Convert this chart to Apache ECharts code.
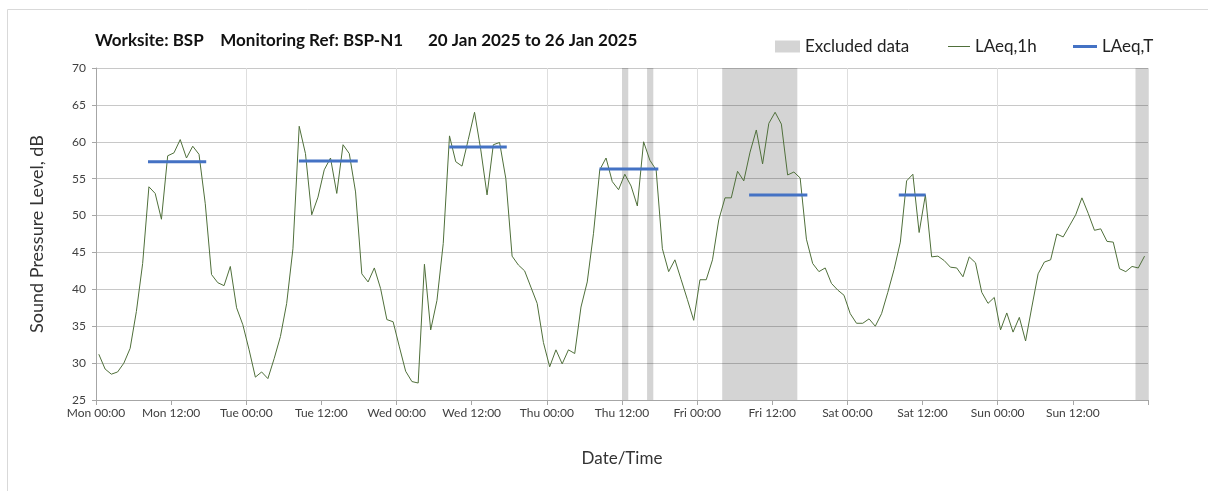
<!DOCTYPE html>
<html>
<head>
<meta charset="utf-8">
<script src="https://cdn.jsdelivr.net/npm/echarts@6/dist/echarts.min.js"></script>
<style>
  html, body { margin: 0; padding: 0; background: #fff; }
  #chart { width: 1208px; height: 491px; }
</style>
</head>
<body>
<div id="chart"></div>
<script>
// hourly LAeq,1h values, Mon 00:00 .. Sun 23:00
var laeq1h = [
  31.2, 29.2, 28.5, 28.8, 30.0, 32.0, 37.0, 43.5, 53.9, 53.0, 49.5, 58.1, 58.5, 60.3, 57.8, 59.4, 58.3, 51.6, 42.0, 40.9, 40.5, 43.1, 37.5, 35.2,
  31.8, 28.1, 28.8, 27.9, 30.6, 33.6, 38.1, 45.5, 62.1, 58.4, 50.1, 52.5, 56.2, 57.8, 53.0, 59.6, 58.4, 53.2, 42.1, 41.0, 42.9, 40.1, 35.9, 35.6,
  32.2, 28.9, 27.5, 27.3, 43.4, 34.5, 38.5, 46.2, 60.8, 57.3, 56.7, 60.3, 64.0, 58.9, 52.8, 59.6, 59.9, 55.0, 44.5, 43.3, 42.5, 40.3, 38.1, 32.8,
  29.5, 31.8, 29.9, 31.8, 31.3, 37.6, 41.0, 47.6, 56.2, 57.8, 54.6, 53.5, 55.6, 54.0, 51.3, 60.0, 57.5, 56.2, 45.5, 42.4, 44.0, 41.3, 38.6, 35.8,
  41.3, 41.3, 44.0, 49.4, 52.4, 52.4, 56.0, 54.7, 58.6, 61.6, 57.0, 62.5, 64.0, 62.4, 55.5, 55.9, 55.1, 46.8, 43.5, 42.4, 42.9, 40.8, 39.9, 39.2,
  36.7, 35.4, 35.4, 36.0, 35.0, 36.7, 39.6, 42.7, 46.4, 54.7, 55.6, 47.7, 52.8, 44.4, 44.5, 43.9, 43.0, 42.9, 41.7, 44.4, 43.6, 39.6, 38.1, 38.9,
  34.5, 36.8, 34.2, 36.2, 33.0, 37.6, 42.1, 43.7, 44.0, 47.5, 47.1, 48.6, 50.1, 52.4, 50.3, 48.0, 48.2, 46.5, 46.4, 42.8, 42.4, 43.1, 42.9, 44.5
];

// LAeq,T periods (hours from Mon 00:00)
var periodStart = [8.3, 32.4, 56.4, 80.4, 104.3, 128.2];
var periodEnd   = [17.6, 41.8, 65.6, 89.8, 113.6, 132.5];
var periodLevel = [57.3, 57.4, 59.3, 56.3, 52.8, 52.8];

// excluded data windows (hours)
var excludedStart = [84, 88, 100, 166];
var excludedEnd   = [85, 89, 112, 168];

var dayNames = ['Mon', 'Tue', 'Wed', 'Thu', 'Fri', 'Sat', 'Sun'];
var yTicks = { min: 25, max: 70, step: 5 };

var lineData = laeq1h.map(function (v, i) { return [i + 0.45, v]; });
var periodData = [];
periodStart.forEach(function (s, i) {
  periodData.push([s, periodLevel[i]]);
  periodData.push([periodEnd[i], periodLevel[i]]);
  periodData.push([periodEnd[i], '-']);
});
var excludedData = excludedStart.map(function (s, i) { return [s, excludedEnd[i]]; });

var font = 'Lato, "Liberation Sans", sans-serif';
var chart = echarts.init(document.getElementById('chart'));

chart.setOption({
  animation: false,
  textStyle: { fontFamily: font },
  title: {
    text: 'Worksite: BSP    Monitoring Ref: BSP-N1      20 Jan 2025 to 26 Jan 2025',
    left: 90, top: 27,
    textStyle: { fontSize: 17, fontWeight: 'bold', color: '#111', fontFamily: font }
  },
  legend: [
    { data: [{ name: 'Excluded data', icon: 'rect' }], left: 770, top: 33, itemWidth: 25, itemHeight: 12,
      textStyle: { fontSize: 17, color: '#222' } },
    { data: [{ name: 'LAeq,1h', icon: 'rect' }], left: 943, top: 33, itemWidth: 22, itemHeight: 1,
      textStyle: { fontSize: 17, color: '#222' } },
    { data: [{ name: 'LAeq,T', icon: 'rect' }], left: 1068, top: 33, itemWidth: 24, itemHeight: 3,
      textStyle: { fontSize: 17, color: '#222' } }
  ],
  graphic: [{
    type: 'rect', left: 5, top: 7, silent: true,
    shape: { width: 1210, height: 500 },
    style: { fill: 'none', stroke: '#d9d9d9', lineWidth: 1 }
  }],
  grid: { left: 96, right: 60, top: 68, bottom: 91 },
  xAxis: [{
    type: 'value', min: 0, max: 168, interval: 12,
    name: 'Date/Time', nameLocation: 'middle', nameGap: 50,
    nameTextStyle: { fontSize: 17, color: '#333' },
    axisLine: { lineStyle: { color: '#a6a6a6' } },
    axisTick: { show: true, length: 5, lineStyle: { color: '#a6a6a6' } },
    axisLabel: {
      fontSize: 12, color: '#404040', margin: 7,
      formatter: function (v) {
        if (v >= 168) return '';
        return dayNames[Math.floor(v / 24)] + (v % 24 === 0 ? ' 00:00' : ' 12:00');
      }
    },
    splitLine: { show: false }
  }, {
    type: 'value', min: 0, max: 168, interval: 24, position: 'bottom',
    axisLine: { show: false }, axisTick: { show: false }, axisLabel: { show: false },
    splitLine: { show: true, lineStyle: { color: '#dedede' } }
  }],
  yAxis: {
    type: 'value', min: yTicks.min, max: yTicks.max, interval: yTicks.step,
    name: 'Sound Pressure Level, dB', nameLocation: 'middle', nameGap: 50,
    nameTextStyle: { fontSize: 18, color: '#333' },
    axisLine: { show: true, lineStyle: { color: '#a6a6a6' } },
    axisTick: { show: true, length: 4, lineStyle: { color: '#a6a6a6' } },
    axisLabel: { fontSize: 12, color: '#404040', margin: 10 },
    splitLine: { lineStyle: { color: '#c8c8c8' } }
  },
  series: [{
    name: 'Excluded data',
    type: 'custom',
    itemStyle: { color: '#d4d4d4' },
    encode: { x: [0, 1] },
    z: 1,
    renderItem: function (params, api) {
      var a = api.coord([api.value(0), yTicks.max]);
      var b = api.coord([api.value(1), yTicks.min]);
      return {
        type: 'rect',
        shape: { x: a[0], y: a[1], width: b[0] - a[0], height: b[1] - a[1] },
        style: { fill: 'rgba(0,0,0,0.17)' }
      };
    },
    data: excludedData
  }, {
    name: 'LAeq,1h',
    type: 'line',
    symbol: 'none',
    z: 3,
    lineStyle: { color: '#4f6f3a', width: 1 },
    itemStyle: { color: '#4f6f3a' },
    data: lineData
  }, {
    name: 'LAeq,T',
    type: 'line',
    symbol: 'none',
    z: 4,
    connectNulls: false,
    lineStyle: { color: '#4472c4', width: 3 },
    itemStyle: { color: '#4472c4' },
    data: periodData
  }]
});
</script>
</body>
</html>
